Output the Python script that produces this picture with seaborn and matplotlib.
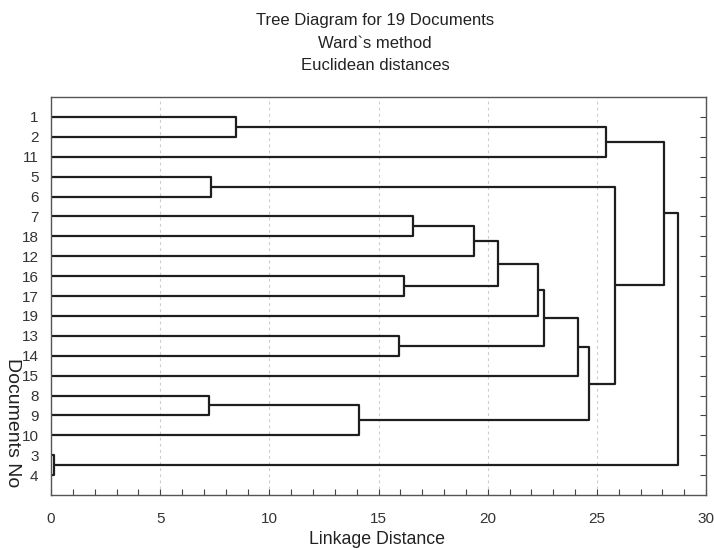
import numpy as np
import pandas as pd
import matplotlib
matplotlib.use("Agg")
import matplotlib.pyplot as plt
from matplotlib.ticker import MultipleLocator
import seaborn as sns

# leaf order (top to bottom) and merge table (linkage style, new clusters numbered from 20)
leaf_order = [1, 2, 11, 5, 6, 7, 18, 12, 16, 17, 19, 13, 14, 15, 8, 9, 10, 3, 4]
merge_left = [3, 8, 5, 1, 21, 13, 16, 7, 27, 28, 29, 30, 31, 32, 23, 22, 34, 36]
merge_right = [4, 9, 6, 2, 10, 14, 17, 18, 12, 26, 19, 25, 15, 24, 11, 33, 35, 20]
merge_height = [0.12, 7.25, 7.33, 8.47, 14.09, 15.93, 16.17, 16.6, 19.38, 20.49,
                22.31, 22.57, 24.13, 24.65, 25.41, 25.85, 28.09, 28.71]

sns.set_theme(style="white")
plt.rcParams['font.family'] = ['Liberation Sans', 'DejaVu Sans']

fig = plt.figure(figsize=(7.14, 5.49), dpi=100)
ax = fig.add_axes([51 / 714, 1 - 495 / 549, 655 / 714, 398 / 549])

# node positions: leaves by order, clusters at mean of children
ypos = {doc: i for i, doc in enumerate(leaf_order)}
xpos = {doc: 0.0 for doc in leaf_order}
for k, (a, b, h) in enumerate(zip(merge_left, merge_right, merge_height)):
    node = 20 + k
    link = pd.DataFrame({"x": [xpos[a], h, h, xpos[b]],
                         "y": [ypos[a], ypos[a], ypos[b], ypos[b]]})
    sns.lineplot(data=link, x="x", y="y", sort=False, estimator=None,
                 color="#1e1e1e", lw=1.6, ax=ax)
    ypos[node] = (ypos[a] + ypos[b]) / 2
    xpos[node] = h

ax.set_xlim(0, 30)
ax.set_ylim(len(leaf_order), -1)
ax.set_yticks(range(len(leaf_order)))
ax.set_yticklabels([str(d) for d in leaf_order])
ax.xaxis.set_major_locator(MultipleLocator(5))
ax.xaxis.set_minor_locator(MultipleLocator(1))
for gx in range(5, 30, 5):
    ax.axvline(gx, color="#cccccc", lw=0.8, ls=(0, (2.5, 3)), zorder=0)

ax.tick_params(axis="x", which="both", direction="in", bottom=True, length=4,
               width=0.8, color="#444444", labelsize=11, pad=12, labelcolor="#333333")
ax.tick_params(axis="y", which="both", direction="in", left=False, right=True,
               labelleft=True, length=4, width=0.8, color="#444444",
               labelsize=11, pad=9, labelcolor="#333333")
for s in ax.spines.values():
    s.set_color("#555555")
    s.set_linewidth(1.0)
ax.set_xlabel("")
ax.set_ylabel("")

fig.text(375 / 714, 1 - 20 / 549, "Tree Diagram for 19 Documents", ha="center", va="center",
         fontsize=12, color="#222222")
fig.text(375 / 714, 1 - 43 / 549, "Ward`s method", ha="center", va="center",
         fontsize=12, color="#222222")
fig.text(375 / 714, 1 - 66 / 549, "Euclidean distances", ha="center", va="center",
         fontsize=12, color="#222222")
fig.text(377 / 714, 1 - 539 / 549, "Linkage Distance", ha="center", va="center",
         fontsize=12.8, color="#222222")
fig.text(12 / 714, 1 - 423 / 549, "Documents No", ha="center", va="center",
         rotation=270, fontsize=14, color="#222222")

fig.savefig("out.png", dpi=100)
